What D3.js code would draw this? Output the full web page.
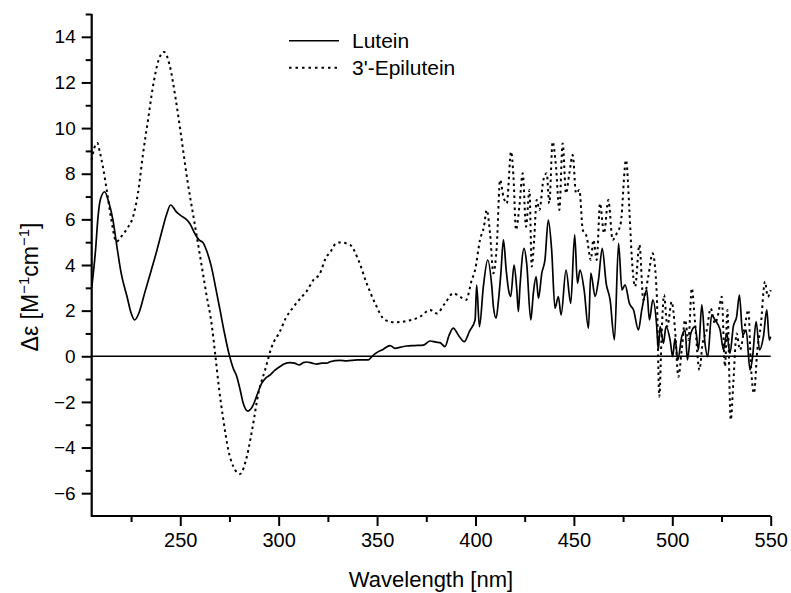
<!DOCTYPE html>
<html><head><meta charset="utf-8">
<script src="https://cdn.jsdelivr.net/npm/d3@7"></script>
<style>
html,body{margin:0;padding:0;background:#fff;}
svg{display:block;font-family:"Liberation Sans",Arial,Helvetica,sans-serif;}
</style></head>
<body>
<svg id="chart" width="791" height="593"></svg>
<script>
// ---- data ----
const luteinWl = [205,207,208.2,209.5,211.6,213.5,215.8,218,220,223,225,226.8,229,232,235.3,238,240.4,243,245.1,248,250.5,253.1,255,257.3,259.5,261.6,263.5,265.8,268,270.2,272.5,274.9,276.8,278.7,280.5,282,284.3,287.1,289,291.4,293.5,295.6,298,300.7,303,305.8,308,310.5,312.5,314.2,317,319.3,322,324.4,326.1,331.2,334.6,340,345.6,347.5,349.8,353,356.6,359.1,362,365.1,369,373.5,376.9,380,382,384.5,386.5,388.7,391.5,394.3,397,399.8,400.6,402,404,406.2,408.3,409.1,410.5,411.7,412.9,414.2,415.6,416.8,417.9,419.6,421,421.8,422.6,424.7,426,428.1,429.4,430.8,432,433.7,435.3,437,438.7,440.4,442.1,443.5,446,448.4,450.4,451.8,453.1,455.2,457.4,458.6,460.8,462.5,464.4,466.4,468.4,470.6,472.7,474.4,476,478.2,480.3,482.8,484.5,487,488.4,490.1,492.1,492.9,493.8,495.5,496.8,498.9,500.2,501.4,502.8,504.8,506.5,507.7,509.4,511.6,513.3,515,516.6,518,520,521.7,524.3,526,527.7,529.3,531,532.7,534.1,535.8,537.5,539.5,540.8,542.6,544.3,546.3,548,549.3,550];
const luteinDe = [3.0,4.7,6.1,6.9,7.21,6.8,5.97,4.7,3.63,2.6,1.9,1.59,1.9,2.8,3.78,4.6,5.39,6.2,6.63,6.33,6.15,6.0,5.8,5.39,5.1,4.98,4.6,3.93,3.0,2.03,1.0,0.06,-0.5,-0.89,-1.5,-2.06,-2.40,-2.13,-1.7,-1.18,-0.95,-0.82,-0.62,-0.45,-0.33,-0.28,-0.3,-0.38,-0.28,-0.25,-0.3,-0.34,-0.3,-0.3,-0.24,-0.18,-0.2,-0.16,-0.16,0.0,0.16,0.3,0.47,0.35,0.4,0.45,0.47,0.49,0.67,0.62,0.6,0.42,0.9,1.23,0.9,0.64,1.1,1.59,3.12,1.30,3.05,4.22,3.05,2.18,1.67,2.47,3.64,5.1,3.78,2.91,2.62,4.0,2.91,1.96,3.05,4.73,4.08,1.59,2.76,3.49,2.54,3.64,4.22,5.97,4.66,2.1,2.62,1.81,3.78,2.32,5.32,3.2,3.78,2.91,1.23,3.64,2.62,3.35,4.73,3.2,2.47,0.72,4.95,2.91,3.13,2.32,2.03,1.16,2.03,2.91,1.59,2.47,1.3,0.28,1.3,0.57,1.3,0.71,-0.02,0.79,-0.16,0.86,1.15,-0.16,1.0,1.3,0.28,2.25,0.57,-0.02,1.81,1.59,1.15,0.28,1.0,0.13,1.3,1.74,2.68,0.93,1.15,-0.6,-0.02,1.52,0.28,0.86,2.03,0.71,0.86];

const epiWl = [205,206.2,207.9,209,210.7,212.9,215,217.5,220,223,226,228.5,231.1,233.6,236.1,239,241.7,244.6,247.5,250.5,253.6,257,260.4,264.1,265.1,266.1,267.7,269.8,271.9,274.4,277,280.4,283.8,286.8,289.7,293.1,296.5,300.7,303.5,307.4,311.7,314.2,317.6,321,323.5,326.9,329.1,331.2,336.3,340.5,344.7,349,354,359.1,365.9,371.8,376.9,380.3,384.5,388.7,392.1,395.2,398.1,399.8,402.3,404.3,405.7,407.4,409.1,410.8,412.5,414.2,415.9,418.1,419.3,420.6,422.3,424,425.7,427.4,428.6,429.8,431.1,432.5,434.5,436.2,437.5,439.2,440.9,442.6,444.3,446,447.7,449.4,451.1,452.8,454.5,456.5,458.6,459.9,461.6,463.3,465.3,467.5,469.7,471.8,473.8,476.5,478.2,479.4,481.1,483.3,485.3,487.8,490,492.1,493.4,494.6,495.8,497.5,499.7,501.4,503.1,504.8,506.5,508.2,509.9,511.6,513.8,515.4,517.5,519.5,521.7,523.4,525.1,526.8,528,529.7,531,532.7,534.4,536.5,538.7,539.8,541.5,543.2,544.9,547.1,548.5,550];
const epiDe = [8.6,9.1,9.35,9.0,8.3,7.14,5.97,5.02,5.24,5.6,6.11,7.14,8.89,10.35,11.81,12.98,13.34,12.76,11.37,9.62,7.72,5.97,4.22,2.32,1.88,1.3,0.13,-1.48,-2.79,-4.1,-4.84,-5.16,-4.4,-3.08,-1.62,-0.6,0.42,1.1,1.65,2.15,2.6,2.85,3.34,3.63,4.22,4.66,4.95,4.99,4.88,4.22,3.2,2.32,1.59,1.49,1.56,1.73,2.03,1.88,2.32,2.76,2.61,2.47,3.34,3.78,5.1,5.68,6.41,5.39,3.64,4.81,7.73,6.99,6.7,8.97,7.87,5.54,6.56,8.02,5.68,7.29,3.93,5.1,6.85,6.41,7.73,8.02,6.7,9.4,8.31,6.41,9.33,7.14,8.02,8.82,7.14,7.29,5.54,5.24,4.22,5.1,4.22,6.7,5.39,6.85,5.1,5.39,5.83,8.6,6.41,4.37,3.05,4.88,2.47,3.49,4.51,2.76,-1.77,1.0,2.68,1.3,2.39,1.15,-0.9,0.28,1.59,0.71,2.98,1.44,-0.6,0.57,1.15,2.1,1.44,1.88,2.61,-0.45,2.03,-2.79,-1.18,1.0,0.28,1.15,2.03,-0.16,-1.62,0.28,1.3,3.27,2.61,2.9];

const xMajorTicks = [250,300,350,400,450,500,550];
const xMinorTicks = [225,275,325,375,425,475,525];
const yMajorTicks = [-6,-4,-2,0,2,4,6,8,10,12,14];
const yMinorTicks = [-5,-3,-1,1,3,5,7,9,11,13,15];
const seriesNames = ["Lutein","3'-Epilutein"];

// ---- chart ----
const svg = d3.select("#chart");
const x = d3.scaleLinear().domain([205,550]).range([91.7,770.7]);
const y = d3.scaleLinear().domain([-7,15]).range([516,14]);

function styleAxis(g){
  g.selectAll("path.domain").remove();
  g.selectAll(".tick line").attr("stroke","#000").attr("stroke-width",2);
  g.selectAll(".tick text").attr("fill","#000");
}

// x axis
svg.append("g").attr("transform",`translate(0,${y(-7)})`)
  .call(d3.axisBottom(x).tickValues(xMinorTicks).tickSize(6).tickFormat(""))
  .call(styleAxis);
const gx = svg.append("g").attr("transform",`translate(0,${y(-7)})`)
  .call(d3.axisBottom(x).tickValues(xMajorTicks).tickSize(10).tickPadding(7).tickFormat(d3.format("d")))
  .call(styleAxis);
gx.selectAll(".tick text").style("font-size","20px");

// y axis
svg.append("g").attr("transform",`translate(${x(205)},0)`)
  .call(d3.axisLeft(y).tickValues(yMinorTicks).tickSize(6).tickFormat(""))
  .call(styleAxis);
const gy = svg.append("g").attr("transform",`translate(${x(205)},0)`)
  .call(d3.axisLeft(y).tickValues(yMajorTicks).tickSize(10).tickPadding(6).tickFormat(d3.format("d")))
  .call(styleAxis);
gy.selectAll(".tick text").style("font-size","19px");

// axis lines
svg.append("path").attr("d",`M${x(205)},${y(15)}V${y(-7)}H${x(550)}`)
  .attr("fill","none").attr("stroke","#000").attr("stroke-width",2.2);

// zero line
svg.append("line").attr("x1",x(205)).attr("x2",x(550)).attr("y1",y(0)).attr("y2",y(0))
  .attr("stroke","#000").attr("stroke-width",1.6);

// series
const lineGen = d3.line().x(d=>x(d[0])).y(d=>y(d[1])).curve(d3.curveMonotoneX);
const lut = luteinWl.map((w,i)=>[w,luteinDe[i]]);
const epi = epiWl.map((w,i)=>[w,epiDe[i]]);
svg.append("path").datum(epi).attr("d",lineGen).attr("fill","none").attr("stroke","#000")
  .attr("stroke-width",2).attr("stroke-dasharray","2.5,3.5");
svg.append("path").datum(lut).attr("d",lineGen).attr("fill","none").attr("stroke","#000")
  .attr("stroke-width",1.7).attr("stroke-linejoin","round");

// legend
const leg = svg.append("g");
leg.append("line").attr("x1",289).attr("x2",339).attr("y1",40.7).attr("y2",40.7)
  .attr("stroke","#000").attr("stroke-width",1.6);
leg.append("line").attr("x1",289).attr("x2",339).attr("y1",67.7).attr("y2",67.7)
  .attr("stroke","#000").attr("stroke-width",2).attr("stroke-dasharray","2.5,4");
leg.append("text").attr("x",352).attr("y",48).style("font-size","21px").text(seriesNames[0]);
leg.append("text").attr("x",352).attr("y",75).style("font-size","21px").text(seriesNames[1]);

// axis titles
svg.append("text").attr("x",431).attr("y",587).attr("text-anchor","middle")
  .style("font-size","22px").text("Wavelength [nm]");
const yt = svg.append("text").attr("transform","translate(38,287) rotate(-90)")
  .attr("text-anchor","middle").style("font-size","23px");
yt.append("tspan").text("\u0394\u03b5  [M");
yt.append("tspan").attr("dy",-9).style("font-size","15px").text("\u22121");
yt.append("tspan").attr("dy",9).text("cm");
yt.append("tspan").attr("dy",-9).style("font-size","15px").text("\u22121");
yt.append("tspan").attr("dy",9).text("]");
</script>
</body></html>
